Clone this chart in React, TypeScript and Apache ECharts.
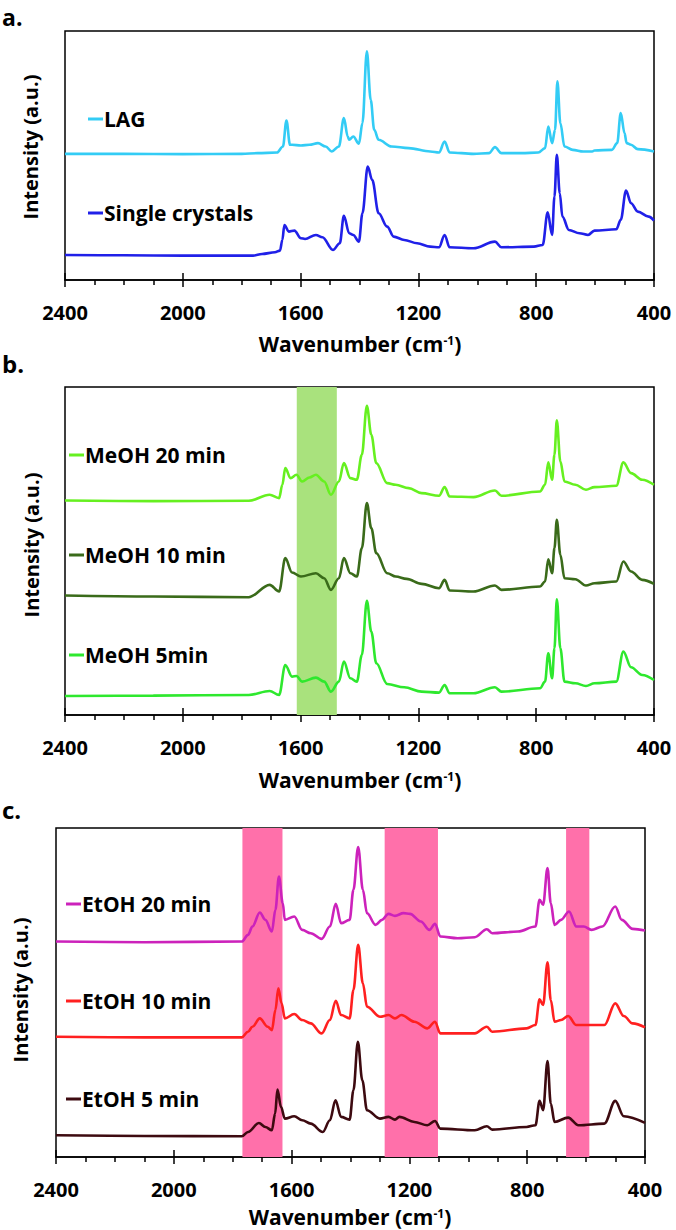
import React, { useEffect, useRef } from "react";
import * as echarts from "echarts";

// ---------- data: [wavenumber (cm-1), intensity (a.u.)] ----------
const xTicks = [2400, 2000, 1600, 1200, 800, 400];

const lag: [number, number][] = [
  [2400, 378], [2200, 378], [2000, 377], [1800, 378], [1746, 380], [1680, 382], [1660, 400],
  [1648, 478], [1636, 405], [1629, 405], [1599, 403], [1570, 405], [1541, 410], [1515, 400],
  [1494, 385], [1470, 400], [1453, 485], [1440, 430], [1435, 420], [1421, 430], [1402, 408],
  [1390, 470], [1375, 685], [1362, 540], [1350, 450], [1335, 420], [1291, 400], [1233, 395],
  [1160, 385], [1130, 382], [1111, 415], [1094, 382], [1013, 378], [960, 380], [940, 398],
  [918, 380], [850, 380], [793, 382], [770, 395], [759, 460], [746, 410], [736, 450], [728, 595],
  [718, 470], [704, 400], [676, 390], [640, 385], [610, 385], [602, 388], [543, 390], [525, 410],
  [513, 500], [500, 440], [493, 410], [478, 405], [455, 392], [400, 385],
];
const singleCrystals: [number, number][] = [
  [2400, 75], [2200, 74], [2000, 73], [1800, 73], [1761, 73], [1731, 78], [1687, 83], [1670, 88],
  [1662, 120], [1655, 165], [1640, 145], [1621, 148], [1599, 125], [1585, 123], [1548, 135],
  [1526, 128], [1490, 90], [1467, 110], [1453, 192], [1435, 140], [1421, 135], [1402, 115],
  [1390, 200], [1372, 340], [1357, 300], [1335, 200], [1306, 160], [1284, 130], [1248, 120],
  [1204, 110], [1160, 100], [1130, 98], [1111, 135], [1094, 98], [1013, 95], [940, 115], [918, 98],
  [808, 100], [778, 105], [761, 203], [746, 135], [738, 250], [730, 375], [720, 260], [711, 190],
  [689, 150], [653, 140], [624, 135], [602, 148], [528, 152], [513, 180], [495, 268], [478, 230],
  [455, 205], [418, 190], [400, 178],
];

const meoh20: [number, number][] = [
  [2400, 643], [2100, 641], [1776, 642], [1705, 660], [1673, 650], [1662, 690], [1652, 740],
  [1634, 710], [1614, 720], [1595, 700], [1570, 712], [1548, 720], [1520, 700], [1497, 660],
  [1470, 700], [1453, 755], [1431, 710], [1409, 705], [1392, 780], [1375, 927], [1360, 840],
  [1343, 755], [1306, 695], [1277, 690], [1233, 680], [1189, 665], [1130, 657], [1111, 683],
  [1094, 655], [1013, 653], [940, 673], [918, 657], [787, 670], [770, 690], [759, 757], [746, 705],
  [738, 780], [730, 883], [718, 760], [704, 700], [667, 690], [631, 675], [602, 683], [528, 687],
  [504, 757], [478, 725], [440, 705], [400, 690],
];
const meoh10: [number, number][] = [
  [2400, 358], [2100, 355], [1776, 353], [1705, 390], [1673, 370], [1652, 470], [1629, 427],
  [1599, 415], [1548, 425], [1520, 410], [1497, 375], [1470, 410], [1453, 470], [1431, 425],
  [1409, 415], [1392, 500], [1375, 635], [1360, 560], [1343, 485], [1306, 425], [1277, 415],
  [1240, 408], [1189, 393], [1130, 380], [1111, 405], [1094, 373], [1013, 370], [940, 388],
  [918, 375], [787, 385], [770, 400], [759, 467], [746, 425], [738, 500], [730, 585], [718, 480],
  [704, 410], [667, 407], [631, 388], [602, 395], [528, 400], [504, 460], [478, 430], [440, 405],
  [400, 393],
];
const meoh5: [number, number][] = [
  [2400, 57], [2100, 58], [1776, 60], [1705, 72], [1673, 60], [1652, 150], [1629, 115],
  [1614, 117], [1595, 100], [1548, 112], [1520, 100], [1497, 70], [1470, 100], [1453, 160],
  [1431, 110], [1409, 100], [1392, 180], [1375, 342], [1360, 250], [1343, 155], [1306, 93],
  [1248, 83], [1189, 70], [1130, 67], [1111, 90], [1094, 65], [1013, 65], [940, 83], [918, 70],
  [787, 80], [770, 100], [759, 185], [746, 110], [738, 200], [730, 347], [718, 200], [704, 100],
  [667, 95], [631, 87], [602, 95], [528, 100], [504, 190], [478, 143], [440, 120], [400, 105],
];

const etoh20: [number, number][] = [
  [2400, 645], [2100, 643], [1769, 645], [1748, 665], [1733, 690], [1708, 732], [1689, 710],
  [1667, 675], [1655, 740], [1643, 840], [1630, 760], [1623, 710], [1591, 720], [1564, 680],
  [1535, 670], [1498, 653], [1470, 690], [1450, 758], [1432, 700], [1403, 710], [1390, 800],
  [1374, 928], [1358, 800], [1344, 730], [1315, 695], [1293, 710], [1271, 728], [1249, 722],
  [1220, 730], [1198, 728], [1161, 705], [1132, 680], [1113, 698], [1095, 660], [1036, 655],
  [978, 658], [937, 682], [919, 670], [831, 675], [772, 690], [758, 770], [746, 755], [731, 865],
  [720, 760], [707, 695], [685, 710], [658, 735], [633, 690], [608, 690], [582, 680], [545, 690],
  [501, 750], [479, 710], [442, 683], [400, 678],
];
const etoh10: [number, number][] = [
  [2400, 360], [2100, 358], [1769, 358], [1748, 375], [1733, 390], [1708, 415], [1681, 390],
  [1667, 380], [1655, 440], [1645, 505], [1634, 460], [1623, 415], [1591, 428], [1564, 410],
  [1535, 400], [1498, 370], [1470, 410], [1450, 468], [1432, 425], [1403, 415], [1390, 500],
  [1374, 635], [1358, 520], [1344, 450], [1300, 420], [1271, 425], [1249, 415], [1227, 425],
  [1183, 405], [1139, 385], [1113, 405], [1095, 370], [978, 370], [937, 390], [919, 375],
  [802, 385], [772, 395], [758, 472], [746, 455], [731, 583], [720, 470], [707, 405], [685, 410],
  [661, 422], [633, 395], [608, 395], [538, 395], [501, 460], [472, 422], [442, 400], [400, 388],
];
const etoh5: [number, number][] = [
  [2400, 65], [2100, 63], [1769, 62], [1748, 75], [1711, 102], [1689, 90], [1667, 80],
  [1656, 130], [1648, 202], [1636, 150], [1623, 115], [1591, 122], [1564, 110], [1535, 100],
  [1494, 75], [1470, 110], [1451, 170], [1432, 120], [1403, 112], [1390, 200], [1375, 345],
  [1360, 230], [1344, 140], [1300, 115], [1271, 120], [1249, 112], [1234, 120], [1183, 105],
  [1139, 95], [1113, 108], [1095, 85], [978, 80], [937, 92], [919, 82], [802, 90], [772, 95],
  [758, 168], [746, 140], [731, 287], [720, 160], [707, 105], [661, 118], [626, 95], [538, 100],
  [501, 168], [472, 122], [400, 102],
];

const meohBand: [number, number] = [1613, 1477];
const etohBands: [number, number][] = [[1767, 1631], [1284, 1103], [668, 589]];

const panelMax = [746, 983, 985];

// ---------- styles ----------
const FONT = '"Open Sans", "Liberation Sans", sans-serif';
const C = {
  lag: "#33CCF5",
  sc: "#2020E8",
  m20: "#66F020",
  m10: "#3A6B1A",
  m5: "#2EE82E",
  e20: "#CC22BB",
  e10: "#FF2020",
  e5: "#3D0A10",
  green: "#A9E27D",
  pink: "#FF70AA",
};

const grids = [
  { left: 65, top: 31, width: 589, height: 249 },
  { left: 65, top: 387, width: 589, height: 328 },
  { left: 56, top: 828, width: 589, height: 329 },
];

export default function App() {
  const ref = useRef<HTMLDivElement>(null);
  useEffect(() => {
    if (!ref.current) return;
    const chart = echarts.init(ref.current, undefined, { renderer: "svg" });

    const xAxis: any[] = [];
    const yAxis: any[] = [];
    grids.forEach((_, i) => {
      xAxis.push({
        type: "value",
        gridIndex: i,
        min: 400,
        max: 2400,
        interval: 400,
        inverse: true,
        position: "bottom",
        axisLine: { show: true, lineStyle: { color: "#000", width: 1.5 } },
        axisTick: { show: true, inside: false, length: 7, lineStyle: { color: "#000", width: 1.5 } },
        minorTick: { show: true, splitNumber: 4, length: 5, lineStyle: { color: "#000", width: 1.5 } },
        axisLabel: {
          show: true,
          margin: 22,
          fontFamily: FONT,
          fontWeight: "bold",
          fontSize: 20,
          lineHeight: 20,
          color: "#000",
          formatter: (v: number) => (xTicks.includes(v) ? String(v) : ""),
        },
        splitLine: { show: false },
      });
      xAxis.push({
        type: "value",
        gridIndex: i,
        min: 400,
        max: 2400,
        interval: 400,
        inverse: true,
        position: "bottom",
        offset: 0,
        axisLine: { show: false },
        axisTick: { show: true, inside: true, length: 7, lineStyle: { color: "#000", width: 1.5 } },
        axisLabel: { show: false },
        splitLine: { show: false },
      });
      yAxis.push({
        type: "value",
        gridIndex: i,
        min: 0,
        max: panelMax[i],
        axisLine: { show: false },
        axisTick: { show: false },
        axisLabel: { show: false },
        splitLine: { show: false },
      });
    });

    const line = (name: string, data: [number, number][], color: string, gi: number) => ({
      type: "line",
      name,
      data,
      xAxisIndex: gi * 2,
      yAxisIndex: gi,
      showSymbol: false,
      smooth: 0.35,
      smoothMonotone: "x",
      z: 3,
      lineStyle: { color, width: 2.6 },
      itemStyle: { color },
    });
    const band = (ranges: [number, number][], color: string, gi: number) => ({
      type: "line",
      data: [],
      xAxisIndex: gi * 2,
      yAxisIndex: gi,
      z: 1,
      silent: true,
      markArea: {
        silent: true,
        itemStyle: { color, opacity: 1 },
        data: ranges.map((r) => [{ xAxis: r[0] }, { xAxis: r[1] }]),
      },
    });

    const series: any[] = [
      band([meohBand], C.green, 1),
      band(etohBands, C.pink, 2),
      line("LAG", lag, C.lag, 0),
      line("Single crystals", singleCrystals, C.sc, 0),
      line("MeOH 20 min", meoh20, C.m20, 1),
      line("MeOH 10 min", meoh10, C.m10, 1),
      line("MeOH 5min", meoh5, C.m5, 1),
      line("EtOH 20 min", etoh20, C.e20, 2),
      line("EtOH 10 min", etoh10, C.e10, 2),
      line("EtOH 5 min", etoh5, C.e5, 2),
    ];

    const txt = (text: string, x: number, y: number, size: number, extra: any = {}) => ({
      type: "text",
      x,
      y,
      z: 10,
      style: {
        text,
        fontFamily: FONT,
        fontWeight: "bold",
        fontSize: size,
        fill: "#000",
        verticalAlign: "middle",
        align: "left",
        ...extra,
      },
    });
    const legendItem = (label: string, color: string, x0: number, y: number) => [
      {
        type: "line",
        z: 10,
        shape: { x1: x0, y1: y, x2: x0 + 15, y2: y },
        style: { stroke: color, lineWidth: 3 },
      },
      txt(label, x0 + 16, y, 21),
    ];
    const title = (cx: number, y: number) => ({
      type: "text",
      x: cx,
      y,
      z: 10,
      style: {
        text: "{b|Wavenumber (cm}{s|-1}{b|)}",
        align: "center",
        verticalAlign: "middle",
        rich: {
          b: { fontFamily: FONT, fontWeight: "bold", fontSize: 21, fill: "#000", lineHeight: 20 },
          s: { fontFamily: FONT, fontWeight: "bold", fontSize: 12, fill: "#000", lineHeight: 10, verticalAlign: "top" },
        },
      },
    });
    const yTitle = (x: number, y: number) => ({
      type: "text",
      x,
      y,
      rotation: Math.PI / 2,
      z: 10,
      style: {
        text: "Intensity (a.u.)",
        fontFamily: FONT,
        fontWeight: "bold",
        fontSize: 20,
        fill: "#000",
        align: "center",
        verticalAlign: "middle",
      },
    });

    const graphic: any[] = [
      txt("a.", 2, 17, 23),
      txt("b.", 2, 363, 24),
      txt("c.", 2, 809, 24),
      title(360, 344),
      title(360, 780),
      title(350, 1217),
      yTitle(30, 147),
      yTitle(31, 545),
      yTitle(20, 990),
      ...legendItem("LAG", C.lag, 88, 119),
      ...legendItem("Single crystals", C.sc, 88, 213),
      ...legendItem("MeOH 20 min", C.m20, 69, 455),
      ...legendItem("MeOH 10 min", C.m10, 69, 555),
      ...legendItem("MeOH 5min", C.m5, 69, 655),
      ...legendItem("EtOH 20 min", C.e20, 66, 904),
      ...legendItem("EtOH 10 min", C.e10, 66, 1001),
      ...legendItem("EtOH 5 min", C.e5, 66, 1099),
    ];

    chart.setOption({
      animation: false,
      backgroundColor: "#fff",
      grid: grids.map((g) => ({ ...g, show: true, borderColor: "#000", borderWidth: 1.5, backgroundColor: "transparent", containLabel: false })),
      xAxis,
      yAxis,
      series,
      graphic,
    });
    return () => chart.dispose();
  }, []);

  return (
    <div
      ref={ref}
      style={{ position: "absolute", left: 0, top: 0, width: 676, height: 1230, background: "#fff" }}
    />
  );
}
